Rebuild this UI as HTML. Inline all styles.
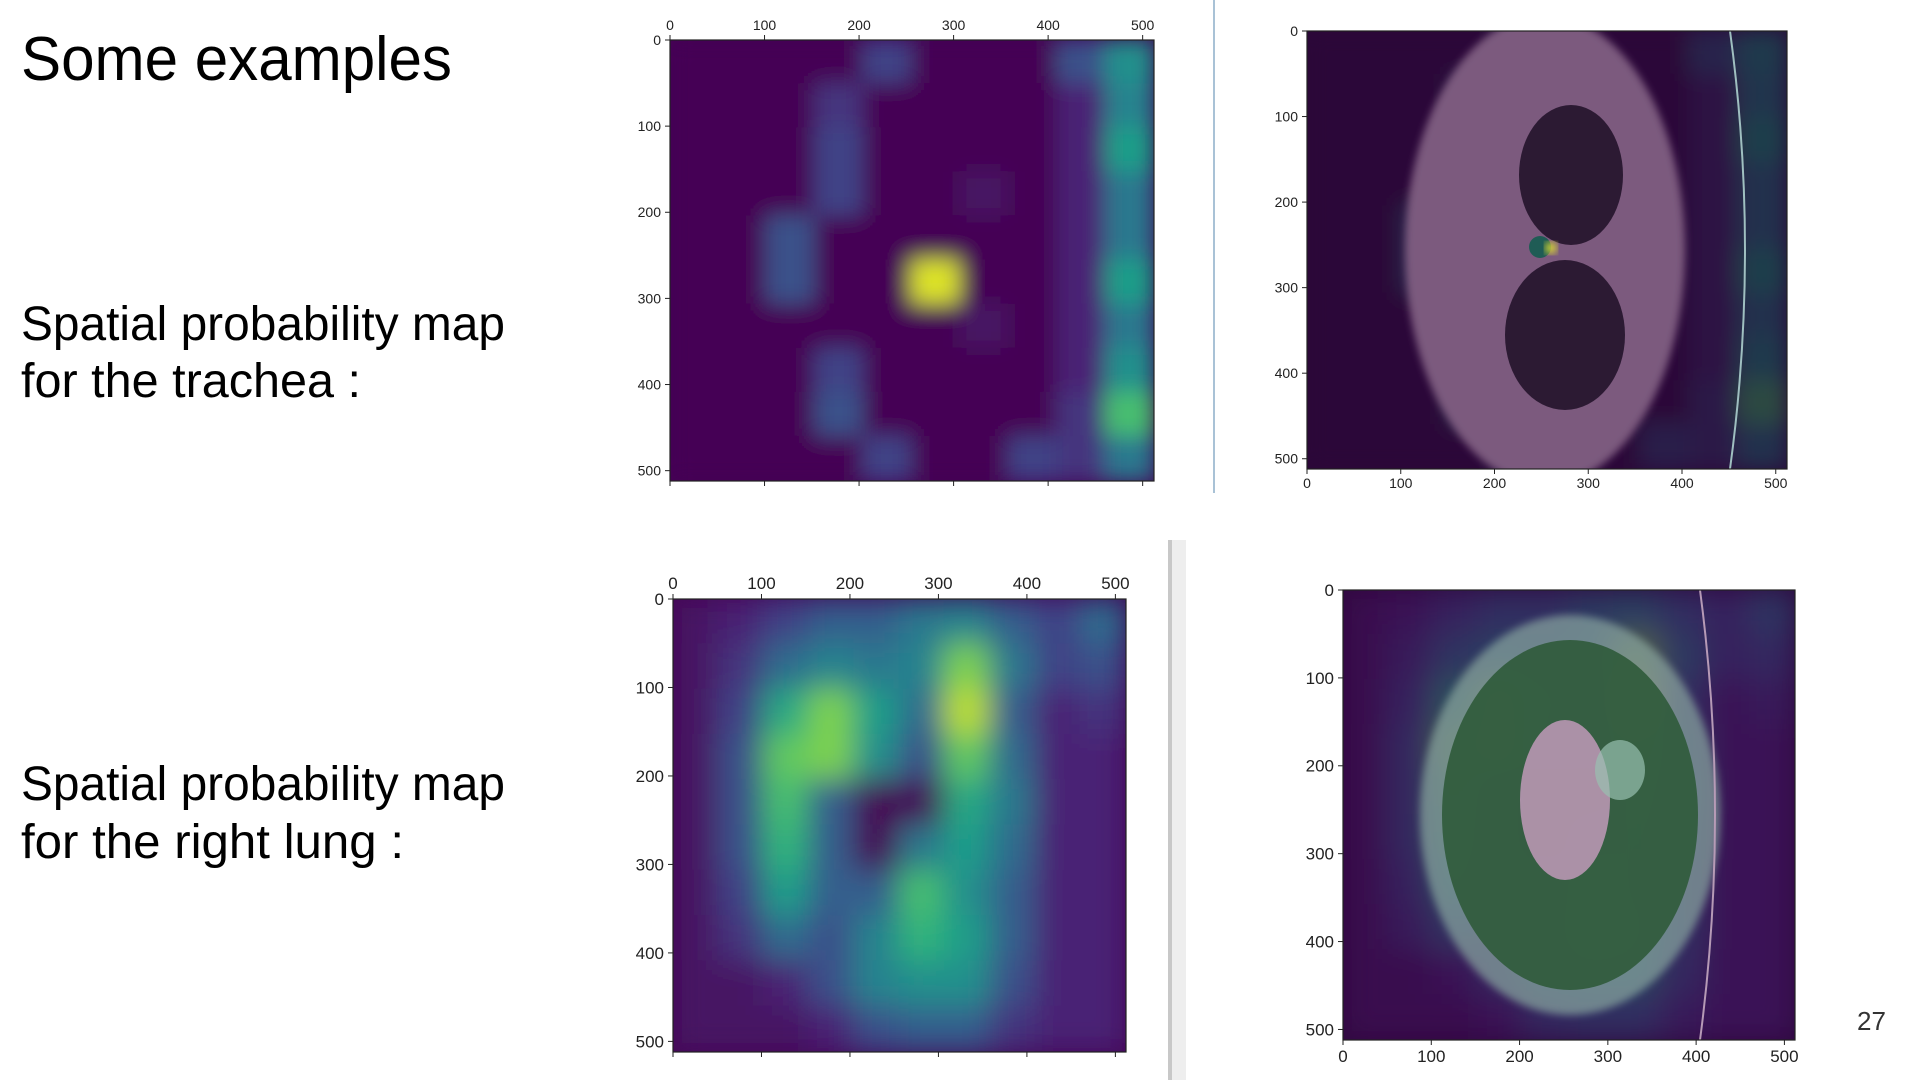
<!DOCTYPE html>
<html><head><meta charset="utf-8"><style>
html,body{margin:0;padding:0;background:#fff;width:1920px;height:1080px;overflow:hidden}
svg{position:absolute;left:0;top:0}
</style></head><body>
<svg id="root" width="1920" height="1080" xmlns="http://www.w3.org/2000/svg" font-family="Liberation Sans, DejaVu Sans, sans-serif">
<defs>
<filter id="blur1" x="-5%" y="-5%" width="110%" height="110%"><feGaussianBlur stdDeviation="11"/></filter>
<filter id="blur2" x="-5%" y="-5%" width="110%" height="110%"><feGaussianBlur stdDeviation="15"/></filter>
<filter id="blurS"><feGaussianBlur stdDeviation="4"/></filter>
<clipPath id="c1"><rect x="670" y="40" width="484" height="441"/></clipPath>
<clipPath id="c2"><rect x="1307" y="31" width="480" height="438"/></clipPath>
<clipPath id="c3"><rect x="673" y="599" width="453" height="453"/></clipPath>
<clipPath id="c4"><rect x="1343" y="590" width="452" height="450"/></clipPath>
</defs>
<text x="21" y="80" font-size="62" textLength="431" lengthAdjust="spacingAndGlyphs">Some examples</text>
<text x="21" y="340" font-size="48" textLength="484" lengthAdjust="spacingAndGlyphs">Spatial probability map</text>
<text x="21" y="397" font-size="48" textLength="340" lengthAdjust="spacingAndGlyphs">for the trachea  :</text>
<text x="21" y="800" font-size="48" textLength="484" lengthAdjust="spacingAndGlyphs">Spatial probability map</text>
<text x="21" y="858" font-size="48" textLength="383" lengthAdjust="spacingAndGlyphs">for the right lung  :</text>
<line x1="1214" y1="0" x2="1214" y2="493" stroke="#a9c2d6" stroke-width="2"/>
<rect x="1168" y="540" width="4" height="540" fill="#c8c8c8"/>
<rect x="1172" y="540" width="14" height="540" fill="#eeeeee"/>
<text x="1857" y="1030" font-size="26" fill="#333">27</text>
<g id="g1"></g>
<g id="g2"></g>
<g id="g3"></g>
<g id="g4"></g>
</svg>
<script>
const ticks=[0,100,200,300,400,500];
const trachea=[
[0,0,0,0,0.2,0,0,0,0.25,0.5],
[0,0,0,0.15,0,0,0,0,0.1,0.45],
[0,0,0,0.2,0,0,0,0,0.1,0.55],
[0,0,0,0.2,0,0,0.05,0,0.1,0.4],
[0,0,0.25,0,0,0,0,0,0.1,0.4],
[0,0,0.25,0,0,0.95,0,0,0.1,0.55],
[0,0,0,0,0,0,0.05,0,0.1,0.4],
[0,0,0,0.2,0,0,0,0,0.1,0.5],
[0,0,0,0.25,0,0,0,0,0.15,0.7],
[0,0,0,0,0.2,0,0,0.2,0.15,0.4]];
const lung=[
[0.05,0.1,0.2,0.3,0.3,0.4,0.45,0.3,0.2,0.35],
[0.05,0.15,0.35,0.45,0.4,0.45,0.8,0.4,0.2,0.25],
[0.05,0.2,0.6,0.8,0.55,0.35,0.9,0.3,0.1,0.15],
[0.05,0.25,0.75,0.8,0.5,0.25,0.75,0.35,0.1,0.1],
[0.05,0.25,0.7,0.3,0.0,0.0,0.6,0.4,0.1,0.1],
[0.05,0.25,0.65,0.3,0.0,0.4,0.55,0.35,0.1,0.1],
[0.05,0.2,0.55,0.3,0.3,0.7,0.5,0.3,0.1,0.1],
[0.05,0.15,0.35,0.25,0.45,0.65,0.55,0.3,0.1,0.1],
[0.05,0.05,0.1,0.25,0.45,0.5,0.5,0.25,0.1,0.1],
[0.05,0.05,0.05,0.1,0.25,0.3,0.3,0.15,0.1,0.1]];
const NS='http://www.w3.org/2000/svg';
const VIR=[[68,1,84],[72,40,120],[62,73,137],[49,104,142],[38,130,142],[31,158,137],[53,183,121],[110,206,88],[181,222,43],[253,231,37]];
function vir(v){v=Math.max(0,Math.min(1,v));const p=v*9,i=Math.min(8,Math.floor(p)),f=p-i;const a=VIR[i],b=VIR[i+1];return 'rgb('+a.map((c,k)=>Math.round(c+(b[k]-c)*f)).join(',')+')';}
function mk(tag,at,parent){const e=document.createElementNS(NS,tag);for(const k in at)e.setAttribute(k,at[k]);parent.appendChild(e);return e;}
function axes(g,X,Y,W,H,fs,topLabels){
  const sx=v=>X+v/512*W, sy=v=>Y+v/512*H;
  mk('rect',{x:X,y:Y,width:W,height:H,fill:'none',stroke:'#222','stroke-width':1.2},g);
  ticks.forEach(t=>{
    mk('line',{x1:X-5,y1:sy(t),x2:X,y2:sy(t),stroke:'#222'},g);
    const ty=mk('text',{x:X-9,y:sy(t)+fs*0.35,'font-size':fs,'text-anchor':'end',fill:'#222'},g);ty.textContent=t;
    
    
    mk('line',{x1:sx(t),y1:Y+H,x2:sx(t),y2:Y+H+5,stroke:'#222'},g);
    if(topLabels){mk('line',{x1:sx(t),y1:Y-5,x2:sx(t),y2:Y,stroke:'#222'},g);}
    const tx=mk('text',{x:sx(t),y:topLabels?Y-10:Y+H+fs+5,'font-size':fs,'text-anchor':'middle',fill:'#222'},g);tx.textContent=t;
    
    
  });
}
function heat(g,data,X,Y,W,H,clip,filt,alpha){
  const inner=mk('g',{'clip-path':'url(#'+clip+')'},g);
  mk('rect',{x:X,y:Y,width:W,height:H,fill:vir(0),opacity:alpha},inner);
  const b=mk('g',{filter:'url(#'+filt+')',opacity:alpha},inner);
  const n=data.length,cw=W/n,ch=H/n;
  data.forEach((row,r)=>row.forEach((v,c)=>{
    const cell=mk('rect',{x:X+c*cw-1,y:Y+r*ch-1,width:cw+2,height:ch+2,fill:vir(v)},b);
    
    
  }));
  return inner;
}
const g1=document.getElementById('g1');
heat(g1,trachea,670,40,484,441,'c1','blur1',1);
axes(g1,670,40,484,441,14,true);
const g2=document.getElementById('g2');
const i2=mk('g',{'clip-path':'url(#c2)'},g2);
mk('rect',{x:1307,y:31,width:480,height:438,fill:'#1e0b2a'},i2);
const h2=mk('g',{opacity:0.35},i2);
heat(h2,trachea,1307,31,480,438,'c2','blur1',1);
mk('ellipse',{cx:1545,cy:250,rx:140,ry:235,fill:'#7c5a7e',filter:'url(#blurS)'},i2);
mk('ellipse',{cx:1571,cy:175,rx:52,ry:70,fill:'#2c1a33'},i2);
mk('ellipse',{cx:1565,cy:335,rx:60,ry:75,fill:'#2c1a33'},i2);
mk('circle',{cx:1540,cy:247,r:11,fill:'#1f5c55'},i2);
mk('circle',{cx:1551,cy:248,r:6,fill:'#d8d830',filter:'url(#blurS)'},i2);
mk('path',{d:'M1730 31 Q1760 250 1730 469',stroke:'#9fbfc0','stroke-width':2,fill:'none'},i2);
axes(g2,1307,31,480,438,14,false);
const g3=document.getElementById('g3');
heat(g3,lung,673,599,453,453,'c3','blur2',1);
axes(g3,673,599,453,453,17,true);
const g4=document.getElementById('g4');
const i4=mk('g',{'clip-path':'url(#c4)'},g4);
mk('rect',{x:1343,y:590,width:452,height:450,fill:'#1e0b2a'},i4);
heat(i4,lung,1343,590,452,450,'c4','blur2',0.45);
mk('ellipse',{cx:1570,cy:815,rx:150,ry:200,fill:'#8aa6a0',opacity:0.7,filter:'url(#blurS)'},i4);
mk('ellipse',{cx:1570,cy:815,rx:128,ry:175,fill:'#2f5a3a',opacity:0.9},i4);
mk('ellipse',{cx:1565,cy:800,rx:45,ry:80,fill:'#c09ab8',opacity:0.85},i4);
mk('ellipse',{cx:1620,cy:770,rx:25,ry:30,fill:'#98c0b0',opacity:0.7},i4);
mk('path',{d:'M1700 590 Q1730 815 1700 1040',stroke:'#b69ab6','stroke-width':2,fill:'none'},i4);
axes(g4,1343,590,452,450,17,false);
</script>
</body></html>
